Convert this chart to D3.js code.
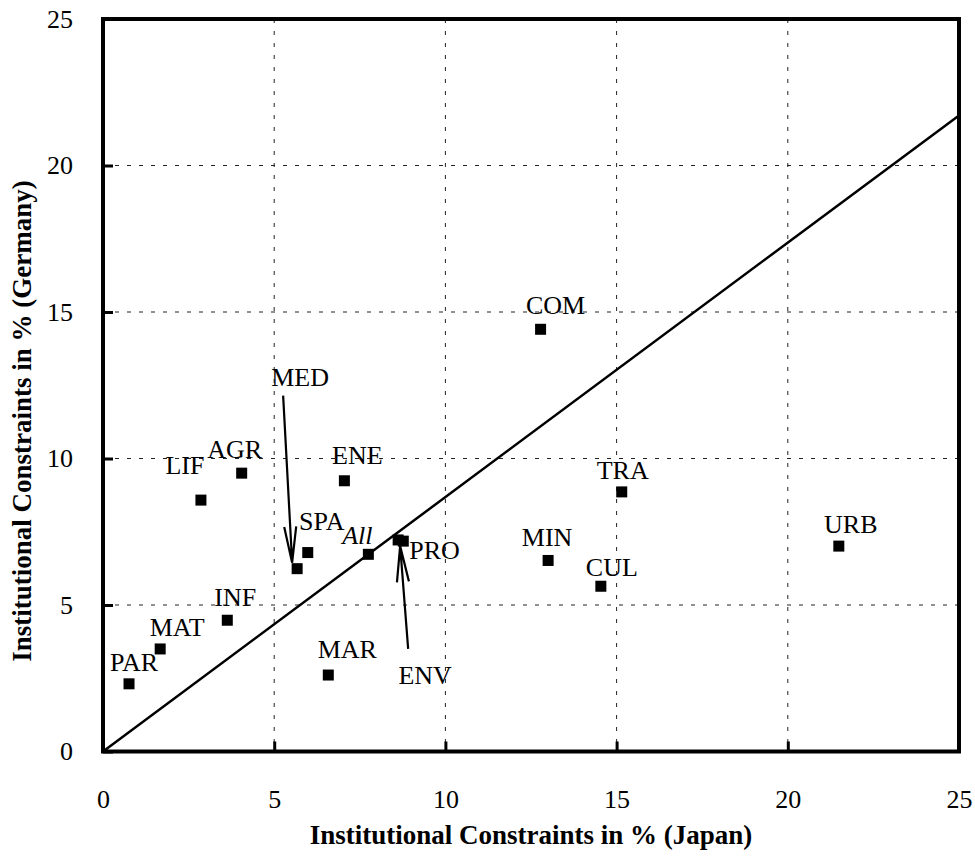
<!DOCTYPE html>
<html>
<head>
<meta charset="utf-8">
<script src="https://cdn.jsdelivr.net/npm/d3@7"></script>
<style>
  html, body { margin: 0; padding: 0; background: #fff; }
  svg { display: block; }
  text { font-family: "Liberation Serif", "Times New Roman", serif; fill: #000; }
</style>
</head>
<body>
<svg id="chart" width="975" height="863"></svg>
<script>
// Research-field codes and their share of institutional constraints (%)
const fields   = ["PAR", "MAT", "INF", "LIF", "AGR", "MED", "SPA", "All", "ENV", "PRO", "ENE", "MAR", "COM", "TRA", "MIN", "CUL", "URB"];
const japan    = [0.76, 1.67, 3.63, 2.86, 4.05, 5.67, 5.98, 7.75, 8.62, 8.77, 7.05, 6.58, 12.78, 15.15, 13.0, 14.54, 21.49];
const germany  = [2.31, 3.50, 4.48, 8.58, 9.50, 6.24, 6.79, 6.73, 7.22, 7.18, 9.24, 2.61, 14.41, 8.86, 6.52, 5.64, 7.01];
const xTicks   = [0, 5, 10, 15, 20, 25];
const yTicks   = [0, 5, 10, 15, 20, 25];

const points = fields.map((f, i) => ({ code: f, x: japan[i], y: germany[i] }));

// Label placement (pixel offset of the text from its marker)
const labelPlacement = {
  PAR: [5, -13], MAT: [17, -13], INF: [8, -14], LIF: [-16, -26], AGR: [-7, -15],
  SPA: [14, -23], All: [-11, -10], PRO: [6, 18, "start"], ENE: [13, -17], MAR: [19, -17],
  COM: [15, -15], TRA: [1, -13], MIN: [-1, -14], CUL: [11, -10], URB: [12, -13]
};
// Labels placed away from their marker, joined by an arrow (tail / tip offsets in px)
const arrowLabels = {
  MED: { text: [3, -183], tail: [-14, -173], tip: [-5, -6] },
  ENV: { text: [27, 144], tail: [10, 109], tip: [2, 6] }
};

const svg = d3.select("#chart");
const plotLeft = 103, plotRight = 959, plotTop = 19, plotBottom = 751.5;

const x = d3.scaleLinear().domain([0, 25]).range([plotLeft, plotRight]);
const y = d3.scaleLinear().domain([0, 25]).range([plotBottom, plotTop]);

// Dashed grid
const grid = svg.append("g").attr("stroke", "#222").attr("stroke-width", 1).attr("stroke-dasharray", "4,8");
grid.selectAll("line.v").data(xTicks.slice(1, -1)).join("line")
  .attr("x1", d => x(d)).attr("x2", d => x(d)).attr("y1", plotTop).attr("y2", plotBottom);
grid.selectAll("line.h").data(yTicks.slice(1, -1)).join("line")
  .attr("y1", d => y(d)).attr("y2", d => y(d)).attr("x1", plotLeft).attr("x2", plotRight);

// Axes: inward tick marks, labels outside
const fontSize = 26;
const xAxis = svg.append("g").attr("transform", `translate(0,${plotBottom})`)
  .call(d3.axisBottom(x).tickValues(xTicks).tickSize(-10).tickPadding(38).tickFormat(d3.format("d")));
const yAxis = svg.append("g").attr("transform", `translate(${plotLeft},0)`)
  .call(d3.axisLeft(y).tickValues(yTicks).tickSize(-10).tickPadding(30).tickFormat(d3.format("d")));
[xAxis, yAxis].forEach(a => {
  a.select(".domain").remove();
  a.selectAll(".tick line").attr("stroke", "#000").attr("stroke-width", 3);
  a.selectAll(".tick text").attr("font-size", fontSize)
    .attr("font-family", "'Liberation Serif', 'Times New Roman', serif").attr("fill", "#000");
});

// Reference line through the origin and the overall value
const allPt = points.find(p => p.code === "All");
const slope = allPt.y / allPt.x;
svg.append("line")
  .attr("x1", x(0)).attr("y1", y(0))
  .attr("x2", x(25)).attr("y2", y(25 * slope))
  .attr("stroke", "#000").attr("stroke-width", 2.5);

// Frame
svg.append("rect")
  .attr("x", plotLeft).attr("y", plotTop).attr("width", plotRight - plotLeft).attr("height", plotBottom - plotTop)
  .attr("fill", "none").attr("stroke", "#000").attr("stroke-width", 4);

// Markers
const ms = 11;
svg.append("g").selectAll("rect").data(points).join("rect")
  .attr("x", d => x(d.x) - ms / 2).attr("y", d => y(d.y) - ms / 2)
  .attr("width", ms).attr("height", ms).attr("fill", "#000");

// Direct labels
const labels = svg.append("g").attr("font-size", fontSize);
points.filter(p => labelPlacement[p.code]).forEach(p => {
  const [dx, dy, anchor] = labelPlacement[p.code];
  labels.append("text")
    .attr("x", x(p.x) + dx).attr("y", y(p.y) + dy)
    .attr("text-anchor", anchor || "middle")
    .attr("font-style", p.code === "All" ? "italic" : "normal")
    .text(p.code);
});

// Arrow labels
points.filter(p => arrowLabels[p.code]).forEach(p => {
  const a = arrowLabels[p.code];
  const cx = x(p.x), cy = y(p.y);
  labels.append("text")
    .attr("x", cx + a.text[0]).attr("y", cy + a.text[1])
    .attr("text-anchor", "middle").text(p.code);
  const tx = cx + a.tail[0], ty = cy + a.tail[1];
  const hx = cx + a.tip[0], hy = cy + a.tip[1];
  const ang = Math.atan2(hy - ty, hx - tx);
  const len = 36, half = 6;
  const bx = hx - len * Math.cos(ang), by = hy - len * Math.sin(ang);
  const nx = -Math.sin(ang) * half, ny = Math.cos(ang) * half;
  svg.append("path")
    .attr("d", `M${tx},${ty}L${hx},${hy}M${bx + nx},${by + ny}L${hx},${hy}L${bx - nx},${by - ny}`)
    .attr("fill", "none").attr("stroke", "#000").attr("stroke-width", 2.2);
});

// Axis titles
const titleSize = 27;
svg.append("text")
  .attr("x", (plotLeft + plotRight) / 2).attr("y", 844)
  .attr("text-anchor", "middle").attr("font-size", titleSize).attr("font-weight", "bold")
  .text("Institutional Constraints in % (Japan)");
svg.append("text")
  .attr("transform", "translate(31,421) rotate(-90)")
  .attr("text-anchor", "middle").attr("font-size", titleSize).attr("font-weight", "bold")
  .text("Institutional Constraints in % (Germany)");
</script>
</body>
</html>
